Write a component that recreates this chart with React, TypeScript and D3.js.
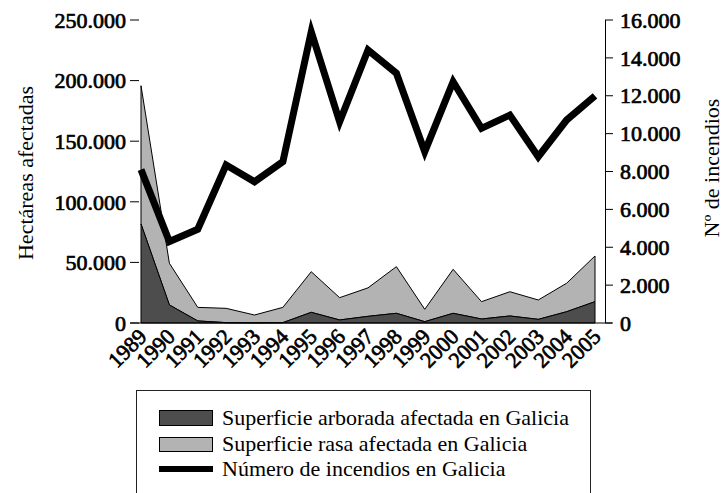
import * as d3 from 'd3';

const years = ['1989', '1990', '1991', '1992', '1993', '1994', '1995', '1996', '1997', '1998', '1999', '2000', '2001', '2002', '2003', '2004', '2005'];
// hectares of wooded surface burnt (bottom band)
const arborada = [81700, 14900, 1700, 300, 200, 300, 8800, 2500, 5500, 8000, 1100, 8000, 3300, 5800, 3000, 9300, 17600];
// total hectares burnt (wooded + open), top of the light band
const totalSup = [195800, 49300, 12900, 12100, 6600, 12900, 42300, 20900, 29000, 46500, 11300, 44300, 17600, 25800, 19000, 32800, 55300];
// number of fires
const incendios = [8100, 4300, 4950, 8340, 7460, 8520, 15380, 10630, 14420, 13190, 9050, 12740, 10280, 10980, 8780, 10720, 11990];

const leftTicks = [0, 50000, 100000, 150000, 200000, 250000];
const rightTicks = [0, 2000, 4000, 6000, 8000, 10000, 12000, 14000, 16000];
const legendLabels = [
  'Superficie arborada afectada en Galicia',
  'Superficie rasa afectada en Galicia',
  'Número de incendios en Galicia',
];

const W = 724;
const H = 493;
const font = '"Liberation Serif", "Times New Roman", serif';
const fmt = (v: number) => d3.format(',')(v).replace(/,/g, '.');

// heavy-looking tick text: regular serif with a thin outline
const boldish = { fontFamily: font, fontSize: 22, stroke: '#000', strokeWidth: 0.7 };

const App = () => {
  const x = d3.scalePoint<string>().domain(years).range([141, 595]);
  const yL = d3.scaleLinear().domain([0, 250000]).range([323, 20]);
  const yR = d3.scaleLinear().domain([0, 16000]).range([323, 20]);

  const idx = years.map((_, i) => i);
  const areaDark = d3.area<number>()
    .x(i => x(years[i])!)
    .y0(yL(0))
    .y1(i => yL(arborada[i]));
  const areaLight = d3.area<number>()
    .x(i => x(years[i])!)
    .y0(i => yL(arborada[i]))
    .y1(i => yL(totalSup[i]));
  const line = d3.line<number>()
    .x(i => x(years[i])!)
    .y(i => yR(incendios[i]));

  const dark = '#4d4d4d';
  const light = '#b3b3b3';

  return (
    <div style={{ position: 'absolute', left: 0, top: 0 }}>
      <svg width={W} height={H} style={{ display: 'block', background: '#fff', fontFamily: font }}>
        {/* areas */}
        <path d={areaLight(idx)!} fill={light} stroke="#000" strokeWidth={1} />
        <path d={areaDark(idx)!} fill={dark} stroke="#000" strokeWidth={1} />

        {/* bottom axis line */}
        <line x1={130} x2={612} y1={323} y2={323} stroke="#000" strokeWidth={1} />

        {/* left ticks */}
        {leftTicks.map(t => (
          <g key={t} transform={`translate(0,${yL(t)})`}>
            <line x1={130} x2={139} stroke="#000" strokeWidth={1} />
            <text x={126} dy="0.35em" textAnchor="end" style={boldish}>{fmt(t)}</text>
          </g>
        ))}

        {/* right axis */}
        <line x1={605.5} x2={605.5} y1={20} y2={323} stroke="#000" strokeWidth={1} />
        {rightTicks.map(t => (
          <g key={t} transform={`translate(0,${yR(t)})`}>
            <line x1={605} x2={613} stroke="#000" strokeWidth={1} />
            <text x={620} dy="0.35em" textAnchor="start" style={boldish}>{fmt(t)}</text>
          </g>
        ))}

        {/* x labels */}
        {years.map(yr => (
          <text key={yr} transform={`translate(${x(yr)! + 7},${338}) rotate(-45)`} textAnchor="end"
            style={boldish}>{yr}</text>
        ))}

        {/* fires line */}
        <path d={line(idx)!} fill="none" stroke="#000" strokeWidth={7} strokeLinejoin="miter" />

        {/* axis titles */}
        <text transform="translate(25,173) rotate(-90)" textAnchor="middle" dy="0.35em" fontSize={22}>Hectáreas afectadas</text>
        <text transform="translate(711,168) rotate(-90)" textAnchor="middle" dy="0.35em" fontSize={22}>Nº de incendios</text>

        {/* legend */}
        <rect x={136.5} y={390.5} width={454} height={120} fill="none" stroke="#222" strokeWidth={1} />
        <rect x={159.5} y={410.5} width={53} height={15} fill={dark} stroke="#000" strokeWidth={1} />
        <rect x={159.5} y={437.5} width={53} height={14} fill={light} stroke="#000" strokeWidth={1} />
        <line x1={159} x2={213} y1={469} y2={469} stroke="#000" strokeWidth={6} />
        {legendLabels.map((l, i) => (
          <text key={l} x={222} y={425 + i * 25.5} fontSize={22}>{l}</text>
        ))}
      </svg>
    </div>
  );
};

export default App;
